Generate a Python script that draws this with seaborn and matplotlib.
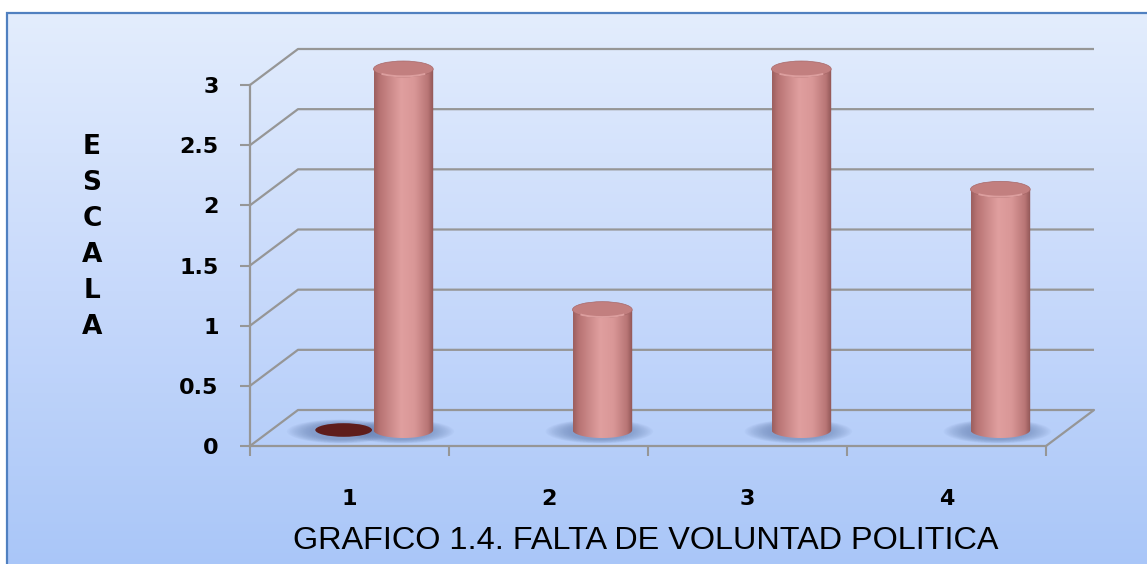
import numpy as np
import pandas as pd
import matplotlib
matplotlib.use("Agg")
import matplotlib.pyplot as plt
import seaborn as sns
from matplotlib.transforms import ScaledTranslation, IdentityTransform
from matplotlib.patches import Ellipse, Rectangle, PathPatch, Arc
from matplotlib.path import Path
from matplotlib.colors import LinearSegmentedColormap

# ---------------- data ----------------
categories = ["1", "2", "3", "4"]
serie1 = [0, np.nan, np.nan, np.nan]
serie2 = [3, 1, 3, 2]
series_names = ["Serie1", "Serie2"]
y_ticks = [0, 0.5, 1, 1.5, 2, 2.5, 3]
y_tick_labels = ["0", "0.5", "1", "1.5", "2", "2.5", "3"]
title = "GRAFICO 1.4. FALTA DE VOLUNTAD POLITICA"
ylabel = "ESCALA"

# ---------------- style ----------------
W, H, DPI = 1147, 564, 100
sns.set_theme(style="white")
plt.rcParams["font.family"] = ["DejaVu Sans"]

GRID = "#969696"
COL1 = "#5f1d1b"
COL2 = "#d99595"

fig = plt.figure(figsize=(W / DPI, H / DPI), dpi=DPI)
fig.patch.set_facecolor("white")

# background gradient + border
bg = fig.add_axes([0, 0, 1, 1], zorder=-10)
bg.set_xlim(0, W)
bg.set_ylim(0, H)
bg.axis("off")
cmap_bg = LinearSegmentedColormap.from_list("bg", ["#a9c6f8", "#c7d9fb", "#e3edfd"])
bg.imshow(np.linspace(0, 1, 256).reshape(-1, 1), extent=[7, W + 5, -5, H - 13],
          cmap=cmap_bg, aspect="auto", origin="lower", interpolation="bilinear")
bg.add_patch(Rectangle((7, -5), W + 10, H - 13 + 5, fill=False, ec="#5080c0", lw=1.6))
bg.set_xlim(0, W)
bg.set_ylim(0, H)

# main (front plane) axes
x0, x1, y0, y1 = 250, 1046, 446, 85
ax = fig.add_axes([x0 / W, (H - y0) / H, (x1 - x0) / W, (y0 - y1) / H])
ax.patch.set_alpha(0)

df = pd.DataFrame({
    "categoria": categories * 2,
    "serie": [series_names[0]] * 4 + [series_names[1]] * 4,
    "valor": serie1 + serie2,
})
sns.barplot(data=df, x="categoria", y="valor", hue="serie", order=categories,
            hue_order=series_names, palette=[COL1, COL2], width=0.6, dodge=True,
            errorbar=None, legend=False, ax=ax)
ax.set_xlim(-0.5, 3.5)
ax.set_ylim(0, 3)
ax.set_xlabel("")
ax.set_ylabel("")

# depth offsets (pixels)
def shifted(dx, dy):
    return ax.transData + ScaledTranslation(dx / DPI, dy / DPI, fig.dpi_scale_trans)

mid = shifted(24, 16)
BACK = np.array([48, 36])
ppu = ax.bbox.height / 3.0
eh = 16 / ppu  # ellipse height in data units

# walls / floor lines
def P(x, y):
    return ax.transData.transform((x, y))

for yv in y_ticks:
    a = P(-0.5, yv)
    b = a + BACK
    c = P(3.5, yv) + BACK
    ax.plot([a[0], b[0], c[0]], [a[1], b[1], c[1]], color=GRID, lw=1.6,
            transform=IdentityTransform(), clip_on=False, zorder=0.5,
            solid_capstyle="butt")
a = P(3.5, 0)
b = a + BACK
ax.plot([a[0], b[0]], [a[1], b[1]], color=GRID, lw=1.6,
        transform=IdentityTransform(), clip_on=False, zorder=0.5)

# cylinders
cyl_cmap = LinearSegmentedColormap.from_list(
    "cyl", [(0, "#9c5f5f"), (0.1, "#b87474"), (0.45, "#e09f9f"),
            (0.68, "#d99797"), (0.9, "#b97676"), (1, "#8f5555")])
grad_h = np.linspace(0, 1, 128).reshape(1, -1)

for ci, cont in enumerate(ax.containers):
    for bar in cont:
        h = bar.get_height()
        bar.set_visible(False)
        if h is None or np.isnan(h):
            continue
        x = bar.get_x()
        w = bar.get_width()
        xc = x + w / 2
        # soft shadow
        n = 16
        for k in range(n):
            f = k / (n - 1)
            ax.add_patch(Ellipse((xc - 0.015, -0.012), w * (1.8 - 0.8 * f),
                                 eh * (1.5 - 0.5 * f), transform=mid,
                                 fc="#6780b2", ec="none", alpha=0.05,
                                 zorder=1, clip_on=False))
        if h <= 0:
            ax.add_patch(Ellipse((xc, 0), w * 0.95, eh * 0.85, transform=mid,
                                 fc=COL1, ec="none", zorder=3, clip_on=False))
            continue
        t = np.linspace(np.pi, 2 * np.pi, 60)
        verts = [(x, h), (x, 0)] + [(xc + w / 2 * np.cos(tt), eh / 2 * np.sin(tt)) for tt in t] \
            + [(x + w, h), (x, h)]
        clip = PathPatch(Path(verts), transform=mid)
        im = ax.imshow(grad_h, extent=[x, x + w, -eh / 2, h], cmap=cyl_cmap,
                       aspect="auto", interpolation="bilinear", zorder=3)
        im.set_transform(mid)
        im.set_clip_box(fig.bbox)
        im.set_clip_path(clip)
        ax.add_patch(Ellipse((xc, h), w, eh, transform=mid, fc="#c27f7f",
                             ec="#a86868", lw=0.5, zorder=4, clip_on=False))
        ax.add_patch(Arc((xc, h), w * 0.97, eh * 0.92, theta1=200, theta2=340,
                         transform=mid, color="#dc9e9e", lw=1.4, zorder=4.5,
                         clip_on=False))

ax.set_xlim(-0.5, 3.5)
ax.set_ylim(0, 3)
ax.set_aspect("auto")

# spines & ticks
for s in ["top", "right"]:
    ax.spines[s].set_visible(False)
for s in ["left", "bottom"]:
    ax.spines[s].set_color(GRID)
    ax.spines[s].set_linewidth(1.6)
    ax.spines[s].set_zorder(0.6)

ax.set_yticks(y_ticks, labels=y_tick_labels)
ax.tick_params(axis="y", which="major", left=True, length=7.5, width=1.5,
               color=GRID, pad=15, labelsize=16, labelcolor="black")
ax.set_xticks(range(len(categories)), labels=categories)
ax.set_xticks(np.arange(-0.5, len(categories), 1.0), minor=True)
ax.tick_params(axis="x", which="major", bottom=True, length=0, pad=31,
               labelsize=16, labelcolor="black")
ax.tick_params(axis="x", which="minor", bottom=True, length=7.5, width=1.5,
               color=GRID)
for lbl in ax.get_yticklabels() + ax.get_xticklabels():
    lbl.set_fontweight("bold")
    lbl.set_family("DejaVu Sans")

# texts
fig.text(646 / W, 1 - 541 / H, title, ha="center", va="center",
         fontsize=23.3, family=["Liberation Sans", "DejaVu Sans"], color="black")
for i, ch in enumerate(ylabel):
    fig.text(92 / W, 1 - (147 + 36 * i) / H, ch, ha="center", va="center",
             fontsize=19, fontweight="bold", family="DejaVu Sans", color="black")

fig.savefig("out.png", dpi=DPI)
